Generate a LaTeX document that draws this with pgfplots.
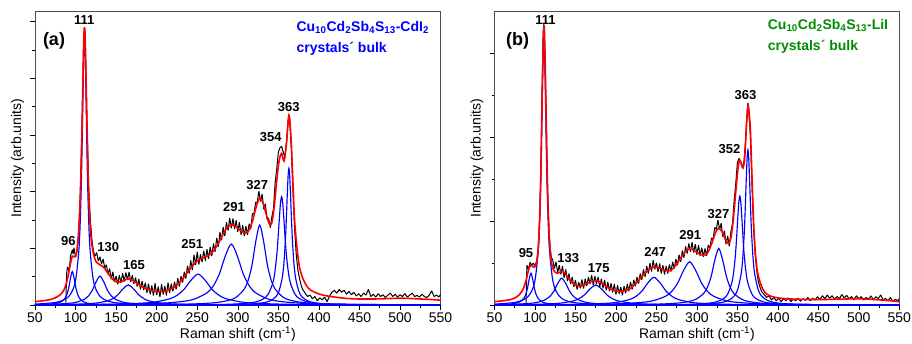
\documentclass[border=0pt]{standalone}
\usepackage{fontspec}
\setmainfont{Liberation Sans}
\usepackage{pgfplots}
\pgfplotsset{compat=1.18}
\pgfplotsset{
  ramanaxis/.style={
    scale only axis,
    height=293.3pt,
    xmin=50, xmax=550, ymin=0,
    xtick={50,100,...,550},
    minor x tick num=1,
    minor y tick num=1,
    yticklabels={},
    tick align=outside,
    xtick pos=bottom, ytick pos=left,
    major tick length=4.5pt, minor tick length=2.5pt,
    every tick/.style={black, line width=0.6pt},
    axis line style={black!70, line width=0.7pt},
    /pgf/number format/assume math mode=true,
    /pgf/number format/set thousands separator={},
    tick label style={font=\fontsize{14}{16}\selectfont},
    xlabel={Raman shift (cm\textsuperscript{-1})},
    ylabel={Intensity (arb.units)},
    label style={font=\fontsize{14}{16}\selectfont},
    xlabel style={at={(axis description cs:0.5,-0.1159)}, anchor=base},
    ylabel style={at={(axis description cs:-0.0431,0.5)}, anchor=center},
  },
  dat/.style={black, line width=1.0pt, line join=bevel},
  fit/.style={red, line width=1.6pt, smooth},
  comp/.style={blue, line width=1.15pt, smooth},
}
\tikzset{pk/.style={font=\fontsize{13}{15}\selectfont\bfseries, black}}
\begin{document}
\begin{tikzpicture}
\useasboundingbox (0,0) rectangle (912pt,343pt);
% ---------------- panel (a) ----------------
\begin{axis}[ramanaxis, at={(35pt,38pt)}, anchor=south west, width=405.6pt,
  ymax=10.35, ytick={0,2,...,10}]
\addplot[dat] coordinates {
(88,0.08)(89,1.1)(90,1.35)(92,1.2)(94,1.75)(96,1.95)(97,1.8)(98,2.02)(100,1.68)(102,1.95)(104,2.55)(106,4.1)(108,6.4)(110,9.3)(111,9.8)(112,9.2)(114,6.6)(116,4.3)(118,3.1)(120,2.35)(122,1.9)(124,1.72)(126,1.85)(128,1.55)(130,1.7)(132,1.45)(134,1.62)(136,1.3)(138,1.42)
(140,1.08)(142,1.29)(144,0.91)(146,1.17)(148,0.81)(150,1.02)(152,0.73)(154,1.05)(156,0.78)(158,1.12)(160,0.83)(162,1.15)(164,0.88)(166,1.17)(168,0.81)(170,1.05)(172,0.75)(174,0.97)(176,0.65)(178,0.92)(180,0.55)(182,0.85)(184,0.53)(186,0.79)(188,0.43)(190,0.75)(192,0.38)(194,0.69)(196,0.33)(198,0.77)(200,0.35)(202,0.65)(204,0.28)(206,0.73)(208,0.37)(210,0.67)(212,0.33)(214,0.79)(216,0.43)(218,0.75)(220,0.48)(222,0.82)(224,0.55)(226,0.95)(228,0.65)(230,1.02)(232,0.79)(234,1.17)(236,0.93)(238,1.39)(240,1.11)(242,1.57)(244,1.23)(246,1.77)(248,1.41)(250,1.87)(252,1.43)(254,1.79)(256,1.51)(258,1.92)(260,1.55)(262,1.97)(264,1.63)(266,2.05)(268,1.73)(270,2.17)(272,1.88)(274,2.37)(276,2.05)(278,2.57)(280,2.28)(282,2.75)(284,2.43)(286,2.92)(288,2.63)(290,3.07)(292,2.71)(294,3.05)(296,2.68)(298,2.99)(300,2.58)(302,2.92)(304,2.48)(306,2.82)(308,2.43)(310,2.79)(312,2.48)(314,2.87)(316,2.68)(318,3.22)(320,3.23)(322,3.62)(324,3.63)(326,4.02)(328,3.65)(330,3.92)(332,3.38)(334,3.57)(336,3.03)(338,3.07)(340,2.73)(342,3.12)(344,3.4)
(346,4.3)(348,4.8)(350,5.4)(352,5.55)(354,5.6)(356,5.4)(358,5.2)(360,5.75)(362,6.5)(363,6.72)(364,6.5)(366,5.5)(368,4.0)(370,2.7)(372,1.8)(374,1.25)(376,0.95)(378,0.7)(380,0.55)(383,0.42)(386,0.3)(389,0.35)(392,0.22)(395,0.3)(398,0.15)(401,0.25)(404,0.18)(407,0.28)(410,0.12)(413,0.3)(416,0.45)(419,0.52)(422,0.42)(425,0.55)(428,0.45)(431,0.52)(434,0.38)(437,0.48)(440,0.36)(443,0.45)(446,0.32)(449,0.4)(452,0.3)(455,0.42)(458,0.35)(461,0.55)(464,0.3)(467,0.38)(470,0.28)(473,0.4)(476,0.3)(479,0.36)(482,0.26)(485,0.35)(488,0.42)(491,0.3)(494,0.38)(497,0.28)(500,0.36)(503,0.3)(506,0.4)(509,0.28)(512,0.35)(515,0.42)(518,0.3)(521,0.34)(524,0.28)(527,0.38)(530,0.3)(533,0.26)(536,0.35)(539,0.5)(542,0.3)(545,0.35)(548,0.28)(550,0.38)};
\addplot[comp] coordinates {(50,0.011)(69,0.032)(78,0.069)(82.5,0.118)(87,0.236)(89.25,0.363)(91.5,0.59)(93.75,0.944)(96,1.18)(98.25,0.944)(100.5,0.59)(102.75,0.363)(105,0.236)(109.5,0.118)(114,0.069)(123,0.032)(141,0.012)(186,0.003)(550,0)};
\addplot[comp] coordinates {(50,0.031)(76,0.094)(90,0.257)(97,0.559)(100.5,0.95)(104,1.9)(105.75,2.92)(107.5,4.75)(109.25,7.6)(110.125,8.94)(111,9.5)(111.875,8.94)(112.75,7.6)(114.5,4.75)(116.25,2.92)(118,1.9)(121.5,0.95)(125,0.559)(132,0.257)(146,0.094)(181,0.024)(250,0.006)(550,0)};
\addplot[comp] coordinates {(50,0.014)(73,0.028)(92,0.06)(101.5,0.102)(111,0.204)(115.75,0.314)(120.5,0.51)(125.25,0.816)(130,1.02)(134.75,0.816)(139.5,0.51)(144.25,0.314)(149,0.204)(158.5,0.102)(168,0.06)(187,0.028)(225,0.01)(320,0.0025)(550,0.0005)};
\addplot[comp] coordinates {(50,0.009)(87,0.019)(113,0.042)(126,0.071)(139,0.142)(145.5,0.218)(152,0.355)(158.5,0.568)(165,0.71)(171.5,0.568)(178,0.355)(184.5,0.218)(191,0.142)(204,0.071)(217,0.042)(243,0.019)(295,0.007)(425,0.0018)(550,0.0008)};
\addplot[comp] coordinates {(50,0.008)(76,0.011)(146,0.029)(181,0.064)(198.5,0.109)(216,0.218)(224.75,0.335)(233.5,0.545)(242.25,0.872)(251,1.09)(259.75,0.872)(268.5,0.545)(277.25,0.335)(286,0.218)(303.5,0.109)(321,0.064)(356,0.029)(426,0.011)(550,0.004)};
\addplot[comp] coordinates {(50,0.008)(142,0.021)(202,0.058)(232,0.126)(247,0.215)(262,0.43)(269.5,0.662)(277,1.075)(284.5,1.72)(292,2.15)(299.5,1.72)(307,1.075)(314.5,0.662)(322,0.43)(337,0.215)(352,0.126)(382,0.058)(442,0.021)(550,0.007)};
\addplot[comp] coordinates {(50,0.003)(137,0.007)(232,0.028)(270,0.076)(289,0.166)(298.5,0.282)(308,0.564)(312.75,0.868)(317.5,1.41)(322.25,2.256)(327,2.82)(331.75,2.256)(336.5,1.41)(341.25,0.868)(346,0.564)(355.5,0.282)(365,0.166)(384,0.076)(422,0.028)(517,0.007)(550,0.005)};
\addplot[comp] coordinates {(50,0.001)(244,0.0095)(299,0.038)(321,0.103)(332,0.225)(337.5,0.382)(343,0.764)(345.75,1.175)(348.5,1.91)(351.25,3.056)(352.625,3.595)(354,3.82)(355.375,3.595)(356.75,3.056)(359.5,1.91)(362.25,1.175)(365,0.764)(370.5,0.382)(376,0.225)(387,0.103)(409,0.038)(464,0.0095)(550,0.003)};
\addplot[comp] coordinates {(50,0.001)(281,0.012)(322,0.048)(338.4,0.13)(346.6,0.283)(350.7,0.482)(354.8,0.964)(356.85,1.483)(358.9,2.41)(360.95,3.856)(361.975,4.536)(363,4.82)(364.025,4.536)(365.05,3.856)(367.1,2.41)(369.15,1.483)(371.2,0.964)(375.3,0.482)(379.4,0.283)(387.6,0.13)(404,0.048)(445,0.012)(550,0.002)};
\addplot[fit] coordinates {
(50,0.12)(60,0.15)(70,0.2)(78,0.3)(84,0.45)(88,0.7)(91,1.05)(94,1.5)(96,1.72)(98,1.7)(100,1.72)(102,2.0)(104,2.7)(106,4.0)(108,6.3)(110,9.2)(111,9.77)(112,9.3)(114,6.5)(116,4.1)(118,2.8)(120,2.15)(123,1.7)(126,1.5)(130,1.42)(134,1.35)(138,1.2)(143,1.0)(148,0.85)(153,0.8)(158,0.84)(164,0.92)(168,0.9)(174,0.8)(180,0.68)(188,0.56)(196,0.49)(204,0.47)(212,0.5)(220,0.6)(228,0.78)(236,1.08)(244,1.38)(250,1.55)(256,1.65)(262,1.72)(268,1.84)(274,2.07)(280,2.4)(286,2.7)(291,2.82)(296,2.8)(302,2.66)(308,2.55)(313,2.6)(318,2.95)(323,3.5)(327,3.77)(331,3.62)(335,3.2)(339,2.86)(342,2.9)(345,3.5)(348,4.4)(351,5.1)(354,5.35)(357,5.08)(360,5.7)(362,6.45)(363,6.7)(364,6.55)(366,5.7)(368,4.3)(370,3.0)(373,2.0)(376,1.35)(380,0.95)(385,0.67)(390,0.52)(400,0.39)(410,0.32)(425,0.26)(440,0.22)(460,0.21)(480,0.22)(500,0.24)(520,0.22)(540,0.19)(550,0.17)};
\node[pk] at (axis cs:110.8,10.06) {111};
\node[pk] at (axis cs:91,2.27) {96};
\node[pk] at (axis cs:140.4,2.06) {130};
\node[pk] at (axis cs:172,1.41) {165};
\node[pk] at (axis cs:243.9,2.14) {251};
\node[pk] at (axis cs:295.3,3.47) {291};
\node[pk] at (axis cs:324,4.24) {327};
\node[pk] at (axis cs:340.6,5.91) {354};
\node[pk] at (axis cs:362.7,6.98) {363};
\end{axis}
% ---------------- panel (b) ----------------
\begin{axis}[ramanaxis, at={(494.5pt,38pt)}, anchor=south west, width=404.8pt,
  ymax=7.0, ytick={0,2,4,6}]
\addplot[dat] coordinates {
(89,0.05)(90,0.95)(92,0.85)(94,1.02)(96,0.95)(98,1.0)(100,0.92)(102,1.05)(104,1.3)(106,2.2)(108,4.0)(110,6.5)(111,6.7)(112,6.1)(114,4.3)(116,2.4)(118,1.55)
(120,1.15)(122,1.07)(124,0.87)(126,1.03)(128,0.77)(130,0.95)(132,0.73)(134,0.93)(136,0.65)(138,0.85)(140,0.57)(142,0.75)(144,0.5)(146,0.67)(148,0.43)(150,0.6)(152,0.37)(154,0.55)(156,0.4)(158,0.61)(160,0.39)(162,0.63)(164,0.45)(166,0.67)(168,0.5)(170,0.71)(172,0.47)(174,0.69)(176,0.5)(178,0.67)(180,0.43)(182,0.63)(184,0.4)(186,0.6)(188,0.35)(190,0.55)(192,0.33)(194,0.52)(196,0.3)(198,0.5)(200,0.25)(202,0.47)(204,0.27)(206,0.43)(208,0.23)(210,0.45)(212,0.28)(214,0.5)(216,0.33)(218,0.55)(220,0.37)(222,0.6)(224,0.45)(226,0.67)(228,0.51)(230,0.75)(232,0.6)(234,0.85)(236,0.67)(238,0.93)(240,0.75)(242,1.0)(244,0.8)(246,1.07)(248,0.85)(250,1.01)(252,0.79)(254,0.99)(256,0.75)(258,0.95)(260,0.73)(262,0.93)(264,0.75)(266,0.97)(268,0.8)(270,1.03)(272,0.87)(274,1.1)(276,0.95)(278,1.2)(280,1.03)(282,1.3)(284,1.13)(286,1.4)(288,1.23)(290,1.47)(292,1.27)(294,1.5)(296,1.25)(298,1.45)(300,1.2)(302,1.43)(304,1.17)(306,1.37)(308,1.15)(310,1.35)(312,1.17)(314,1.43)(316,1.35)(318,1.6)(320,1.57)(322,1.85)(324,1.8)(326,2.03)(328,1.8)(330,1.95)(332,1.63)(334,1.77)(336,1.45)(338,1.65)(340,1.4)(342,1.75)(344,1.95)
(346,2.5)(348,2.9)(350,3.4)(352,3.5)(354,3.42)(356,3.3)(358,3.4)(360,3.9)(362,4.6)(363,4.83)(364,4.65)(366,4.05)(368,2.9)(370,1.85)(372,1.2)(374,0.8)(376,0.55)(378,0.42)(380,0.32)(383,0.25)(386,0.18)(389,0.22)(392,0.12)(395,0.18)(398,0.1)(401,0.16)(404,0.08)(407,0.15)(410,0.1)(413,0.17)(416,0.08)(419,0.14)(422,0.1)(425,0.16)(428,0.09)(431,0.15)(434,0.11)(437,0.18)(440,0.1)(443,0.16)(446,0.12)(449,0.2)(452,0.13)(455,0.22)(458,0.15)(461,0.24)(464,0.16)(467,0.22)(470,0.14)(473,0.2)(476,0.15)(479,0.25)(482,0.17)(485,0.23)(488,0.15)(491,0.2)(494,0.12)(497,0.22)(500,0.15)(503,0.2)(506,0.12)(509,0.18)(512,0.14)(515,0.22)(518,0.12)(521,0.2)(524,0.15)(527,0.24)(530,0.12)(533,0.16)(536,0.1)(539,0.18)(542,0.08)(545,0.14)(548,0.1)(550,0.15)};
\addplot[comp] coordinates {(50,0.0075)(68,0.0205)(77,0.0447)(81.5,0.076)(86,0.152)(88.25,0.234)(90.5,0.38)(92.75,0.608)(95,0.76)(97.25,0.608)(99.5,0.38)(101.75,0.234)(104,0.152)(108.5,0.076)(113,0.0447)(122,0.0205)(140,0.0075)(185,0.0019)(550,0)};
\addplot[comp] coordinates {(50,0.021)(76,0.064)(90,0.174)(97,0.379)(100.5,0.645)(104,1.29)(105.75,1.985)(107.5,3.225)(109.25,5.16)(110.125,6.07)(111,6.45)(111.875,6.07)(112.75,5.16)(114.5,3.225)(116.25,1.985)(118,1.29)(121.5,0.645)(125,0.379)(132,0.174)(146,0.064)(181,0.016)(250,0.004)(550,0)};
\addplot[comp] coordinates {(50,0.009)(73,0.017)(93,0.038)(103,0.064)(113,0.128)(118,0.197)(123,0.32)(128,0.512)(133,0.64)(138,0.512)(143,0.32)(148,0.197)(153,0.128)(163,0.064)(173,0.038)(193,0.017)(233,0.006)(333,0.0016)(550,0.0004)};
\addplot[comp] coordinates {(50,0.006)(91,0.013)(119,0.028)(133,0.048)(147,0.096)(154,0.148)(161,0.24)(168,0.384)(175,0.48)(182,0.384)(189,0.24)(196,0.148)(203,0.096)(217,0.048)(231,0.028)(259,0.013)(315,0.005)(455,0.0012)(550,0.0007)};
\addplot[comp] coordinates {(50,0.004)(97,0.0065)(157,0.018)(187,0.039)(202,0.066)(217,0.132)(224.5,0.203)(232,0.33)(239.5,0.528)(247,0.66)(254.5,0.528)(262,0.33)(269.5,0.203)(277,0.132)(292,0.066)(307,0.039)(337,0.018)(397,0.0065)(550,0.0016)};
\addplot[comp] coordinates {(50,0.004)(141,0.010)(201,0.028)(231,0.061)(246,0.103)(261,0.206)(268.5,0.317)(276,0.515)(283.5,0.824)(291,1.03)(298.5,0.824)(306,0.515)(313.5,0.317)(321,0.206)(336,0.103)(351,0.061)(381,0.028)(441,0.010)(550,0.0034)};
\addplot[comp] coordinates {(50,0.0016)(137,0.0034)(232,0.013)(270,0.0365)(289,0.079)(298.5,0.135)(308,0.27)(312.75,0.415)(317.5,0.675)(322.25,1.08)(327,1.35)(331.75,1.08)(336.5,0.675)(341.25,0.415)(346,0.27)(355.5,0.135)(365,0.079)(384,0.0365)(422,0.013)(517,0.0034)(550,0.0024)};
\addplot[comp] coordinates {(50,0.0007)(253,0.0065)(303,0.0257)(323,0.070)(333,0.153)(338,0.26)(343,0.52)(345.5,0.80)(348,1.30)(350.5,2.08)(351.75,2.447)(353,2.60)(354.25,2.447)(355.5,2.08)(358,1.30)(360.5,0.80)(363,0.52)(368,0.26)(373,0.153)(383,0.070)(403,0.0257)(453,0.0065)(550,0.0017)};
\addplot[comp] coordinates {(50,0.0007)(279,0.0092)(321,0.0366)(337.8,0.0999)(346.2,0.2176)(350.4,0.37)(354.6,0.74)(356.7,1.138)(358.8,1.85)(360.9,2.96)(361.95,3.48)(363,3.70)(364.05,3.48)(365.1,2.96)(367.2,1.85)(369.3,1.138)(371.4,0.74)(375.6,0.37)(379.8,0.2176)(388.2,0.0999)(405,0.0366)(447,0.0092)(550,0.0019)};
\addplot[fit] coordinates {
(50,0.08)(60,0.1)(70,0.13)(78,0.2)(84,0.33)(88,0.52)(91,0.75)(93,0.9)(95,0.95)(97,0.92)(99,0.9)(101,0.95)(103,1.15)(105,1.7)(107,2.9)(109,5.2)(111,6.6)(112,6.3)(113,5.4)(115,3.2)(117,1.9)(119,1.25)(121,0.95)(124,0.8)(128,0.76)(133,0.8)(137,0.76)(142,0.62)(148,0.5)(154,0.45)(160,0.47)(166,0.53)(172,0.58)(178,0.57)(184,0.5)(190,0.42)(197,0.35)(204,0.32)(211,0.34)(218,0.4)(225,0.52)(232,0.68)(239,0.82)(245,0.9)(250,0.9)(256,0.86)(262,0.82)(268,0.83)(274,0.95)(280,1.12)(286,1.28)(291,1.34)(296,1.31)(302,1.23)(308,1.19)(313,1.24)(318,1.45)(323,1.73)(327,1.83)(331,1.75)(335,1.57)(339,1.47)(342,1.6)(345,2.05)(348,2.7)(351,3.3)(353,3.46)(355,3.35)(357,3.27)(359,3.5)(361,4.2)(363,4.73)(364,4.68)(366,4.2)(368,3.1)(370,2.0)(372,1.3)(374,0.9)(376,0.68)(380,0.44)(384,0.3)(390,0.22)(400,0.17)(420,0.14)(450,0.13)(480,0.14)(500,0.15)(520,0.13)(540,0.1)(550,0.08)};
\node[pk] at (axis cs:113,6.79) {111};
\node[pk] at (axis cs:88.9,1.25) {95};
\node[pk] at (axis cs:141.2,1.11) {133};
\node[pk] at (axis cs:178.8,0.88) {175};
\node[pk] at (axis cs:248.4,1.27) {247};
\node[pk] at (axis cs:291.7,1.67) {291};
\node[pk] at (axis cs:326.7,2.16) {327};
\node[pk] at (axis cs:340.3,3.72) {352};
\node[pk] at (axis cs:360,5.0) {363};
\end{axis}
% ---------------- panel labels and sample names ----------------
\node[font=\fontsize{18}{20}\selectfont\bfseries] at (54pt,302pt) {(a)};
\node[font=\fontsize{18}{20}\selectfont\bfseries] at (517.7pt,302.5pt) {(b)};
\node[anchor=base west, font=\fontsize{14}{16}\selectfont\bfseries, text=blue] at (293pt,311.3pt)
  {Cu\textsubscript{10}Cd\textsubscript{2}Sb\textsubscript{4}S\textsubscript{13}-CdI\textsubscript{2}};
\node[anchor=base west, font=\fontsize{14}{16}\selectfont\bfseries, text=blue] at (293pt,290pt)
  {crystals´ bulk};
\node[anchor=base west, font=\fontsize{14}{16}\selectfont\bfseries, text=green!55!black] at (764.3pt,313.7pt)
  {Cu\textsubscript{10}Cd\textsubscript{2}Sb\textsubscript{4}S\textsubscript{13}-LiI};
\node[anchor=base west, font=\fontsize{14}{16}\selectfont\bfseries, text=green!55!black] at (764.3pt,292.3pt)
  {crystals´ bulk};
\end{tikzpicture}
\end{document}
